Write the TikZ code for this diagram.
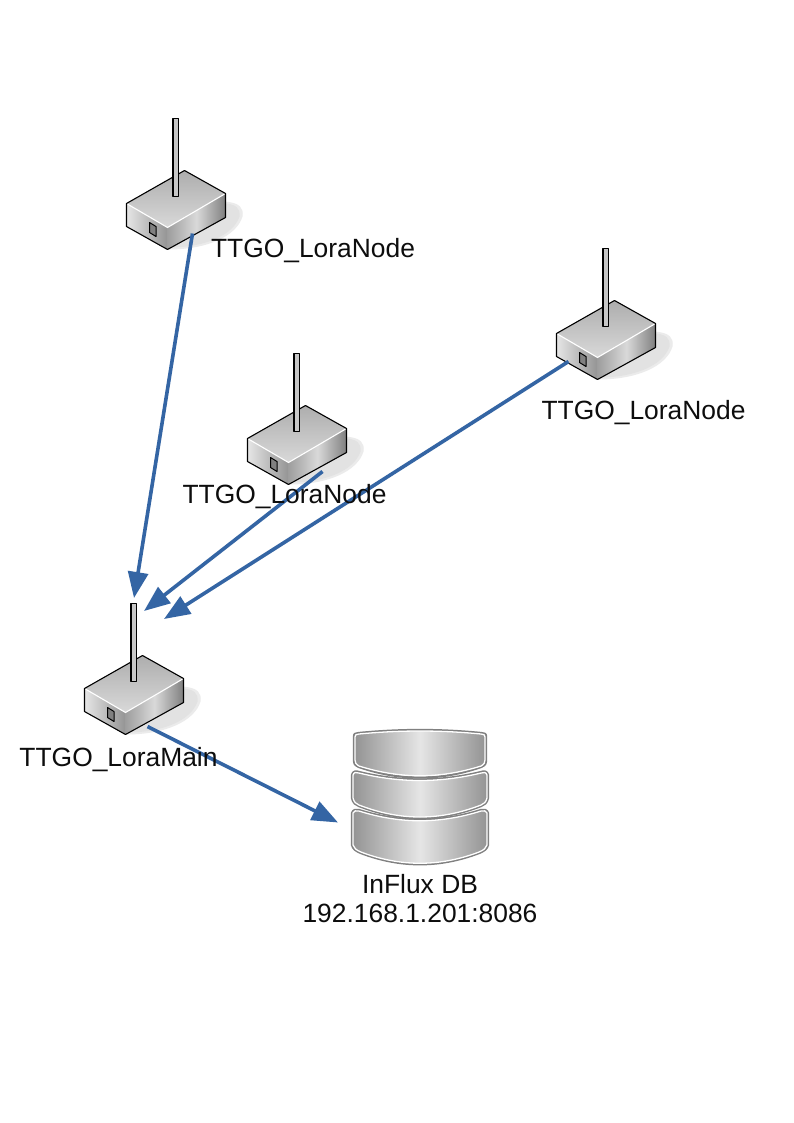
\documentclass[tikz,border=0pt]{standalone}
\usepackage{fontspec}
\setmainfont{Liberation Sans}
\usetikzlibrary{arrows.meta}
\definecolor{linkblue}{RGB}{52,101,164}
\definecolor{shadowgray}{RGB}{226,226,226}
\tikzset{
  lbl/.style={font=\fontsize{26.4}{29}\selectfont, text=black!95, inner sep=0pt, align=center},
  link/.style={draw=linkblue, line width=3.6pt, -{Triangle[length=26pt,width=20pt]}},
  edge/.style={draw=black, line width=1.1pt, line join=round},
  seg/.style={left color=black!42, right color=black!42, middle color=black!10, draw=white, line width=1.3pt, line join=round},
  segout/.style={draw=black!50, line width=2.3pt, line join=round},
  device/.pic={
    \fill[shadowgray!70] (60,32) .. controls (95,30) and (119,28) .. (116,46) .. controls (110,66) and (80,79) .. (42,79) -- cycle;
    \fill[shadowgray] (62,33) .. controls (95,32) and (115,30) .. (113,46) .. controls (107,64) and (80,77) .. (42,77) -- cycle;
    \shade[top color=black!32, bottom color=black!15] (0,33) -- (58,0) -- (99,23) -- (41,57) -- cycle;
    \shade[left color=black!10, right color=black!42] (0,33) -- (41,57) -- (41,79) -- (0,56) -- cycle;
    \shade[left color=black!38, right color=black!50, middle color=black!15] (41,57) -- (99,23) -- (99,47) -- (41,79) -- cycle;
    \draw[white, line width=1.1pt] (0,33) -- (41,57) -- (99,23);
    \draw[edge] (0,33) -- (58,0) -- (99,23) -- (99,47) -- (41,79) -- (0,56) -- cycle;
    \draw[edge, fill=black!50, line width=1pt] (23,52) -- (29.5,56) -- (29.5,66) -- (23,62) -- cycle;
    \draw[edge, fill=black!22] (46.5,-52) rectangle (52,26);
    \coordinate (-link) at (66,63);
  }
}
\begin{document}
\begin{tikzpicture}[x=1pt,y=-1pt]
\useasboundingbox (0,0) rectangle (794,1123);
\fill[white] (0,0) rectangle (794,1123);

\pic (na) at (126.5,170.5) {device};
\pic (nb) at (247.5,405.5) {device};
\pic (nc) at (556.5,300.5) {device};
\pic (main) at (84.5,655.5) {device};

% database
\begin{scope}[shift={(420,0)},xscale=0.985,shift={(-420,0)}]
\path[segout] (351,813) .. controls (352,810) and (355,809) .. (358,810) .. controls (400,823) and (440,823) .. (482,810) .. controls (485,809) and (488,810) .. (489,813) -- (489,845) .. controls (488,849) and (485,851) .. (480,853) .. controls (440,868) and (400,868) .. (360,853) .. controls (355,851) and (352,849) .. (351,845) -- cycle;
\shade[seg] (352,813) .. controls (353,811) and (355,810) .. (358,811) .. controls (400,824) and (440,824) .. (482,811) .. controls (485,810) and (487,811) .. (488,813) -- (488,845) .. controls (487,848) and (485,850) .. (480,852) .. controls (440,867) and (400,867) .. (360,852) .. controls (355,850) and (353,848) .. (352,845) -- cycle;
\path[segout] (351,775) .. controls (352,771) and (355,771) .. (358,772) .. controls (400,782) and (440,782) .. (482,772) .. controls (485,771) and (488,771) .. (489,775) -- (489,798) .. controls (488,803) and (485,805) .. (482,806) .. controls (440,822) and (400,822) .. (358,806) .. controls (355,805) and (352,803) .. (351,798) -- cycle;
\shade[seg] (352,775) .. controls (353,772) and (355,772) .. (358,773) .. controls (400,783) and (440,783) .. (482,773) .. controls (485,772) and (487,772) .. (488,775) -- (488,798) .. controls (487,802) and (485,804) .. (482,805) .. controls (440,821) and (400,821) .. (358,805) .. controls (355,804) and (353,802) .. (352,798) -- cycle;
\path[segout] (353,737) .. controls (353,733) and (354,734) .. (358,733) .. controls (400,729) and (440,729) .. (482,733) .. controls (486,734) and (487,733) .. (487,737) -- (487,760) .. controls (487,764) and (486,765) .. (482,767) .. controls (440,781) and (400,781) .. (358,767) .. controls (354,765) and (353,764) .. (353,760) -- cycle;
\shade[seg] (354,737) .. controls (354,734) and (355,735) .. (358,734) .. controls (400,730) and (440,730) .. (482,734) .. controls (485,735) and (486,734) .. (486,737) -- (486,760) .. controls (486,763) and (485,764) .. (482,766) .. controls (440,779) and (400,779) .. (358,766) .. controls (355,764) and (354,763) .. (354,760) -- cycle;
\end{scope}
\coordinate (dbin) at (338,822.5);
\coordinate (tipa) at (134,598);
\coordinate (tipb) at (144,611);
\coordinate (tipc) at (164,619);

% connectors
\draw[link] (na-link) -- (tipa);
\draw[link] (nb-link) ++(9,3) -- (tipb);
\draw[link] (nc-link) ++(-54,-2) -- (tipc);
\draw[link] (main-link) ++(-3,8) -- (dbin);

% labels
\node[lbl] (la) at (313,250.5) {TTGO\_LoraNode};
\node[lbl] (lb) at (284.5,496.5) {TTGO\_LoraNode};
\node[lbl] (lc) at (643.5,412.5) {TTGO\_LoraNode};
\node[lbl] (lm) at (118.5,759.5) {TTGO\_LoraMain};
\node[lbl] (ldb) at (420,899) {InFlux DB\\192.168.1.201:8086};
\end{tikzpicture}
\end{document}
